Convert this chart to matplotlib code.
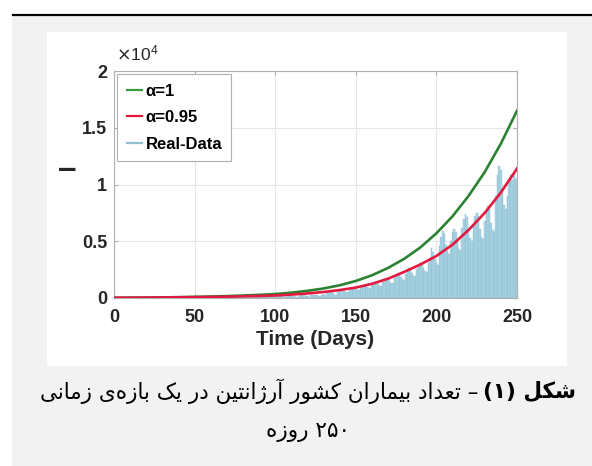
import re
import matplotlib
matplotlib.use('Agg')
import matplotlib.pyplot as plt
from matplotlib.patches import Rectangle
from matplotlib.lines import Line2D

# model curves every 10 days
fit_days = [0, 10, 20, 30, 40, 50, 60, 70, 80, 90, 100, 110, 120, 130, 140,
            150, 160, 170, 180, 190, 200, 210, 220, 230, 240, 250]
alpha_1 = [20, 30, 40, 55, 75, 100, 130, 170, 220, 280, 350, 470, 630, 840, 1120,
           1500, 2000, 2650, 3450, 4450, 5700, 7200, 9000, 11100, 13600, 16500]
alpha_095 = [20, 25, 35, 45, 60, 75, 95, 120, 150, 180, 220, 300, 400, 530, 700,
             920, 1250, 1700, 2300, 2950, 3700, 4700, 6000, 7500, 9300, 11400]

# daily real data, day 0..250
real_data = [
    0, 0, 0, 1, 0, 1, 2, 1, 1, 3,
    2, 4, 6, 5, 3, 2, 7, 9, 8, 12,
    14, 11, 8, 7, 15, 20, 22, 21, 17, 12,
    11, 24, 27, 29, 28, 23, 16, 15, 31, 35,
    38, 36, 30, 21, 19, 40, 46, 49, 47, 39,
    27, 25, 50, 57, 60, 58, 49, 33, 31, 60,
    68, 72, 69, 58, 40, 37, 72, 82, 87, 83,
    70, 48, 44, 85, 96, 102, 98, 82, 57, 52,
    100, 113, 120, 115, 96, 66, 61, 116, 132, 140,
    134, 112, 77, 71, 135, 153, 162, 156, 130, 90,
    82, 155, 176, 190, 182, 152, 104, 95, 180, 205,
    220, 210, 176, 120, 110, 210, 240, 258, 248, 207,
    142, 130, 245, 282, 305, 292, 244, 168, 154, 290,
    340, 300, 420, 480, 520, 500, 420, 290, 265, 560,
    665, 725, 712, 620, 560, 540, 722, 831, 900, 879,
    760, 700, 680, 897, 1035, 1125, 1102, 956, 850, 820,
    1105, 1282, 1400, 1377, 1200, 1100, 1050, 1402, 1615, 1750,
    1710, 1488, 1350, 1300, 1734, 1995, 2160, 2109, 1824, 1650,
    1600, 2100, 2413, 2610, 2546, 2200, 1950, 1900, 2516, 2878,
    3100, 3040, 2640, 2350, 2250, 3060, 3515, 4400, 4085, 3440,
    3100, 2900, 4600, 5400, 5900, 5600, 4700, 4100, 3900, 5000,
    5800, 6100, 5800, 4900, 4300, 4100, 6200, 7000, 7400, 7100,
    6000, 5300, 5000, 6300, 7200, 7500, 7200, 6100, 5400, 5200,
    6800, 7700, 8100, 7800, 6600, 6000, 5800, 9000, 10800, 11600,
    11300, 9500, 8200, 7800, 9000, 10200, 10800, 10400, 10900, 10400, 10600,
]
real_days = list(range(len(real_data)))

x_ticks = [0, 50, 100, 150, 200, 250]
y_ticks = [0, 5000, 10000, 15000, 20000]
y_tick_labels = ['0', '0.5', '1', '1.5', '2']
legend_labels = ['α=1', 'α=0.95', 'Real-Data']

caption_bold = 'شکل (۱)'
caption_rest = '– تعداد بیماران کشور آرژانتین در یک بازه\u200cی زمانی'
caption_line2 = '۲۵۰ روزه'

# presentation forms: isolated, final, initial, medial
FORMS = {
    'ا': ('\ufe8d', '\ufe8e', None, None),
    'آ': ('\ufe81', '\ufe82', None, None),
    'ب': ('\ufe8f', '\ufe90', '\ufe91', '\ufe92'),
    'ت': ('\ufe95', '\ufe96', '\ufe97', '\ufe98'),
    'د': ('\ufea9', '\ufeaa', None, None),
    'ر': ('\ufead', '\ufeae', None, None),
    'ز': ('\ufeaf', '\ufeb0', None, None),
    'ژ': ('\ufb8a', '\ufb8b', None, None),
    'ش': ('\ufeb5', '\ufeb6', '\ufeb7', '\ufeb8'),
    'ع': ('\ufec9', '\ufeca', '\ufecb', '\ufecc'),
    'ک': ('\ufb8e', '\ufb8f', '\ufb90', '\ufb91'),
    'ل': ('\ufedd', '\ufede', '\ufedf', '\ufee0'),
    'م': ('\ufee1', '\ufee2', '\ufee3', '\ufee4'),
    'ن': ('\ufee5', '\ufee6', '\ufee7', '\ufee8'),
    'ه': ('\ufee9', '\ufeea', '\ufeeb', '\ufeec'),
    'و': ('\ufeed', '\ufeee', None, None),
    'ی': ('\ufbfc', '\ufbfd', '\ufbfe', '\ufbff'),
}
MIRROR = {'(': ')', ')': '('}


def persian(text):
    '''
    Joins the letters and lays the string out right to left,
    since matplotlib does no shaping of its own.
    '''
    out = []
    for i, ch in enumerate(text):
        if ch not in FORMS:
            if ch != '\u200c':
                out.append(MIRROR.get(ch, ch))
            continue
        prev_ch = text[i - 1] if i > 0 else ''
        next_ch = text[i + 1] if i + 1 < len(text) else ''
        join_prev = prev_ch in FORMS and FORMS[prev_ch][2] is not None
        join_next = FORMS[ch][2] is not None and next_ch in FORMS
        isol, fina, init, medi = FORMS[ch]
        if join_prev and join_next:
            out.append(medi)
        elif join_prev:
            out.append(fina)
        elif join_next:
            out.append(init)
        else:
            out.append(isol)
    visual = ''.join(reversed(out))
    # digit runs keep left to right order
    return re.sub('[۰-۹]+', lambda m: m.group(0)[::-1], visual)


W, H = 592, 466
plt.rcParams['font.family'] = ['Liberation Sans', 'DejaVu Sans']
fig = plt.figure(figsize=(W / 100, H / 100), dpi=100, facecolor='white')

# page background, white picture panel and the rule on top
fig.add_artist(Rectangle((12 / W, 0), 1 - 12 / W, 1 - 16 / H, transform=fig.transFigure,
                         facecolor='#f2f2f2', edgecolor='none', zorder=-10))
fig.add_artist(Rectangle((47 / W, 1 - 366 / H), 520 / W, 334 / H, transform=fig.transFigure,
                         facecolor='white', edgecolor='none', zorder=-9))
fig.add_artist(Line2D([13 / W, 1], [1 - 15 / H, 1 - 15 / H], transform=fig.transFigure,
                      color='black', linewidth=1.6, zorder=-8))

ax = fig.add_axes([114 / W, 1 - 298 / H, 403 / W, 227 / H])
ax.bar(real_days, real_data, width=1.0, color='#abd6e5', edgecolor='#8dbccf',
       linewidth=0.3, label=legend_labels[2], zorder=2)
ax.plot(fit_days, alpha_1, color='#2b8232', linewidth=1.9, label=legend_labels[0], zorder=3)
ax.plot(fit_days, alpha_095, color='#e3193f', linewidth=1.9, label=legend_labels[1], zorder=3)

ax.set_xlim(0, 250)
ax.set_ylim(0, 20000)
ax.set_xticks(x_ticks)
ax.set_yticks(y_ticks)
ax.set_yticklabels(y_tick_labels)
ax.grid(True, color='#e6e6e6', linewidth=0.8, zorder=0)
ax.set_axisbelow(True)
for s in ax.spines.values():
    s.set_color('#b0b0b0')
    s.set_linewidth(0.8)
ax.tick_params(direction='in', length=3, color='#b0b0b0', top=True, right=True,
               labelsize=13, labelcolor='#262626')
ax.tick_params(axis='x', pad=8)
ax.tick_params(axis='y', pad=5)
for lab in ax.get_xticklabels() + ax.get_yticklabels():
    lab.set_fontweight('bold')

ax.set_xlabel('Time (Days)', fontsize=15, fontweight='bold', color='#262626', labelpad=3)
ax.set_ylabel('–', fontsize=24, fontweight='bold', color='#262626', rotation=0)
ax.yaxis.set_label_coords(-0.115, 0.5)
ax.text(0.005, 1.035, r'$\times\mathregular{10^4}$', transform=ax.transAxes,
        fontsize=12.5, color='#262626', ha='left', va='bottom')

handles = [Line2D([], [], color='#3a9a40', linewidth=1.6),
           Line2D([], [], color='#e3193f', linewidth=1.6),
           Line2D([], [], color='#8fc0d4', linewidth=1.6)]
leg = ax.legend(handles, legend_labels, loc='upper left', bbox_to_anchor=(0.0, 1.0),
                prop={'size': 12, 'weight': 'bold'}, handlelength=0.9,
                handletextpad=0.25, labelspacing=0.7, borderpad=0.55,
                borderaxespad=0.2, fancybox=False, framealpha=1)
leg.get_frame().set_edgecolor('#b0b0b0')
leg.get_frame().set_linewidth(0.8)

# caption, bold part sits on the right
renderer = fig.canvas.get_renderer()
cap_kw = dict(fontsize=15.5, color='black', va='center', ha='left', family='DejaVu Sans')
t_rest = fig.text(0, 1 - 391 / H, persian(caption_rest), **cap_kw)
t_bold = fig.text(0, 1 - 391 / H, persian(caption_bold), fontweight='bold', **cap_kw)
w_rest = t_rest.get_window_extent(renderer).width
w_bold = t_bold.get_window_extent(renderer).width
left = 308 - (w_rest + w_bold + 5) / 2
t_rest.set_x(left / W)
t_bold.set_x((left + w_rest + 5) / W)
fig.text(308 / W, 1 - 432 / H, persian(caption_line2), fontsize=15.5, color='black',
         va='center', ha='center', family='DejaVu Sans')

fig.savefig('out.png', dpi=100, facecolor='white')
